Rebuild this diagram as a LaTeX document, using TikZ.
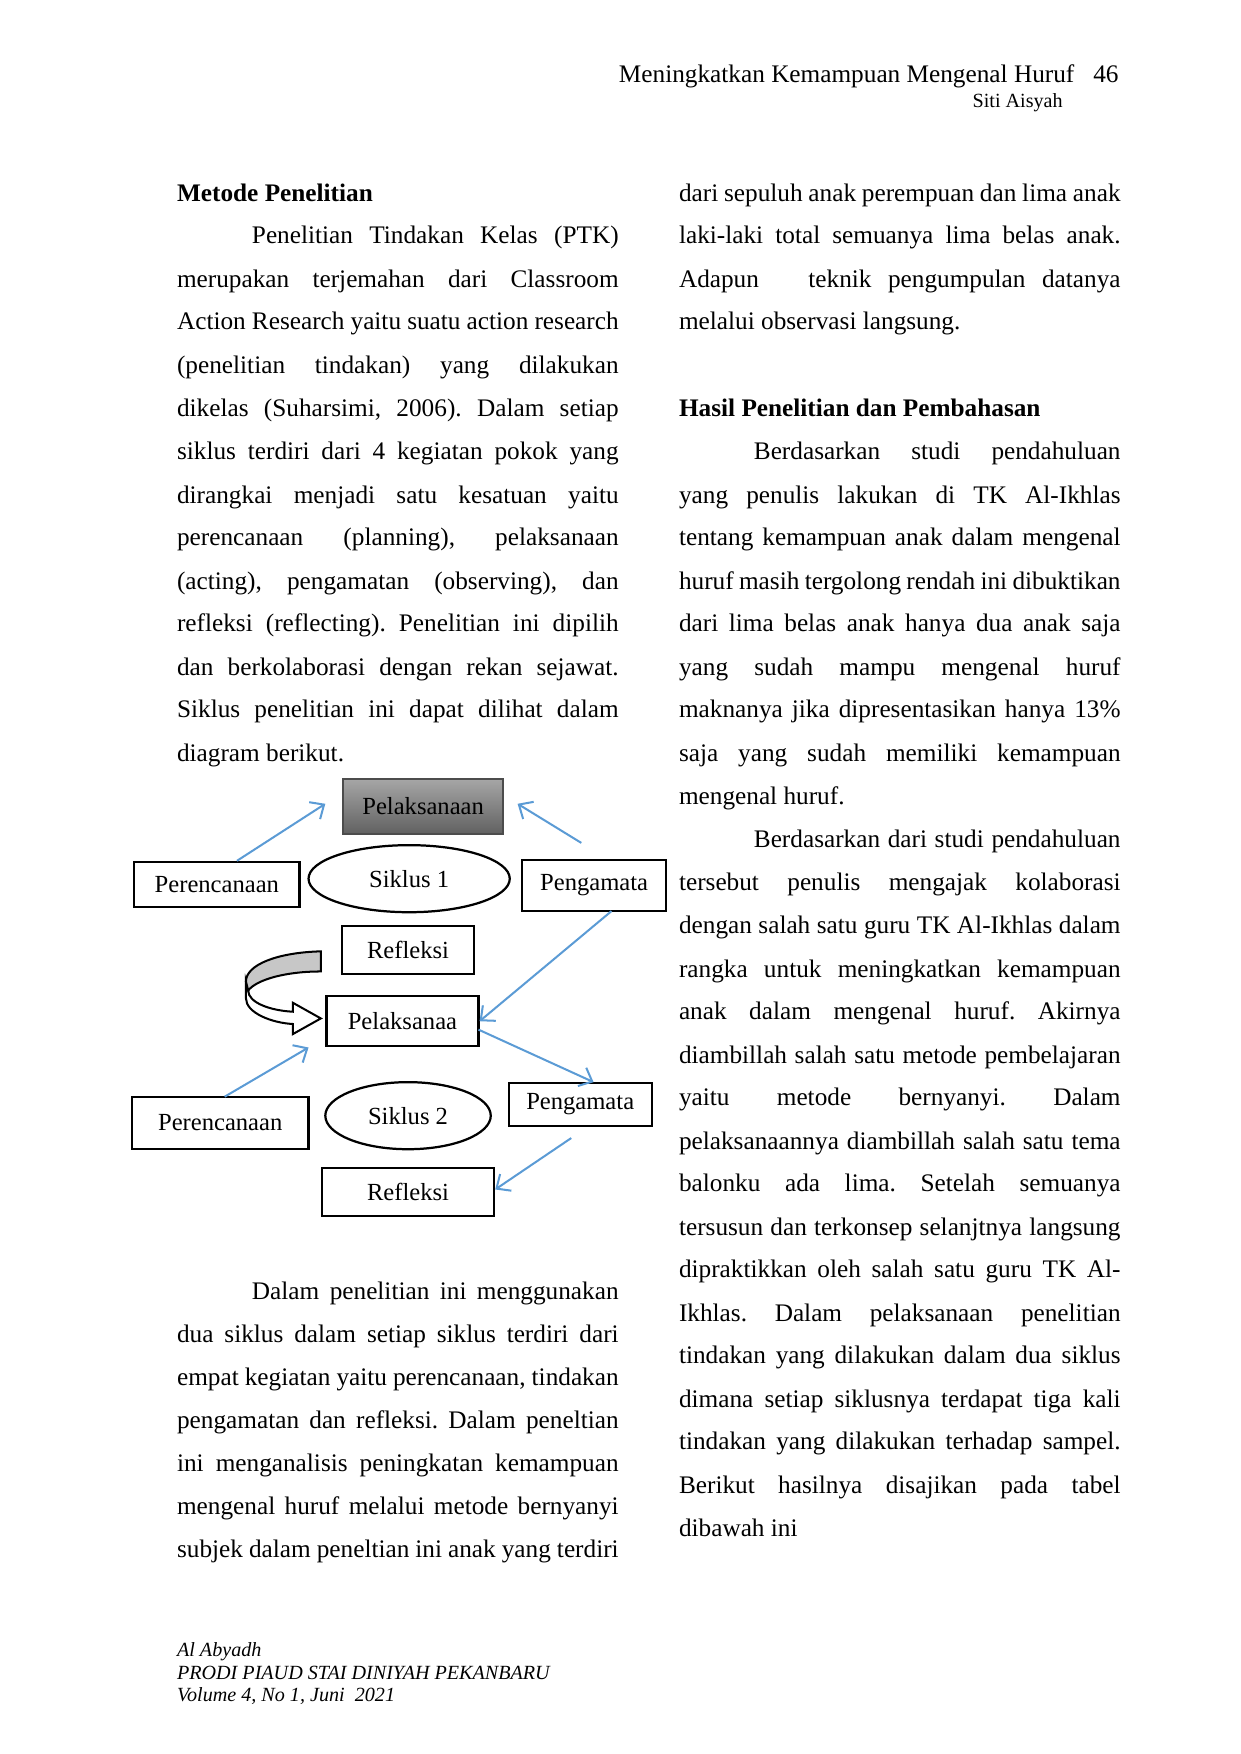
\documentclass[tikz,border=0pt]{standalone}
\usepackage{fontspec}
\setmainfont{Liberation Serif}
\usetikzlibrary{shapes.geometric,arrows.meta}
\frenchspacing
\begin{document}
\begin{tikzpicture}[x=0.5pt,y=-0.5pt,
  box/.style={draw,line width=1pt,inner sep=0pt,font=\fontsize{11pt}{13pt}\selectfont},
  ell/.style={draw,ellipse,line width=1pt,inner sep=0pt,font=\fontsize{11pt}{13pt}\selectfont},
  arr/.style={draw={rgb,255:red,91;green,155;blue,213},line width=0.9pt,-{Straight Barb[length=5pt,width=9pt]}},
  tl/.style={anchor=base west,inner sep=0pt,font=\fontsize{11.3pt}{13pt}\selectfont}]
\useasboundingbox (0,0) rectangle (1110,1569);
\newcommand\JL[2]{\node[tl] at (#1+8) {\makebox[197.5pt][s]{#2}};}
\newcommand\IL[2]{\node[tl] at (#1+8) {\hspace*{33.5pt}\makebox[164pt][s]{#2}};}
\newcommand\LL[2]{\node[tl] at (#1+8) {#2};}
% header
\node[anchor=base east,inner sep=0pt,font=\fontsize{11.3pt}{13pt}\selectfont] (hd) at (1001,74) {Meningkatkan Kemampuan Mengenal Huruf\hspace{8.5pt}46};
\node[anchor=base east,inner sep=0pt,font=\fontsize{9pt}{11pt}\selectfont] (au) at (951,96) {Siti Aisyah};
% footer
\node[anchor=base west,inner sep=0pt,font=\fontsize{9pt}{10pt}\selectfont\itshape] (ft) at (158,1482) {Al Abyadh};
\node[anchor=base west,inner sep=0pt,font=\fontsize{9pt}{10pt}\selectfont\itshape] (ft2) at (158,1502) {PRODI PIAUD STAI DINIYAH PEKANBARU};
\node[anchor=base west,inner sep=0pt,font=\fontsize{9pt}{10pt}\selectfont\itshape] (ft3) at (158,1522) {Volume 4, No 1, Juni\ \ 2021};
% left column
\LL{158,172}{\textbf{Metode Penelitian}}
\IL{158,210}{Penelitian Tindakan Kelas (PTK)}
\JL{158,249}{merupakan terjemahan dari Classroom}
\JL{158,287}{Action Research yaitu suatu action research}
\JL{158,326}{(penelitian tindakan) yang dilakukan}
\JL{158,365}{dikelas (Suharsimi, 2006). Dalam setiap}
\JL{158,403}{siklus terdiri dari 4 kegiatan pokok yang}
\JL{158,442}{dirangkai menjadi satu kesatuan yaitu}
\JL{158,480}{perencanaan (planning), pelaksanaan}
\JL{158,519}{(acting), pengamatan (observing), dan}
\JL{158,557}{refleksi (reflecting). Penelitian ini dipilih}
\JL{158,596}{dan berkolaborasi dengan rekan sejawat.}
\JL{158,634}{Siklus penelitian ini dapat dilihat dalam}
\LL{158,673}{diagram berikut.}
\IL{158,1154}{Dalam penelitian ini menggunakan}
\JL{158,1193}{dua siklus dalam setiap siklus terdiri dari}
\JL{158,1231}{empat kegiatan yaitu perencanaan, tindakan}
\JL{158,1270}{pengamatan dan refleksi. Dalam peneltian}
\JL{158,1308}{ini menganalisis peningkatan kemampuan}
\JL{158,1347}{mengenal huruf melalui metode bernyanyi}
\JL{158,1385}{subjek dalam peneltian ini anak yang terdiri}
% right column
\JL{607,172}{dari sepuluh anak perempuan dan lima anak}
\JL{607,210}{laki-laki total semuanya lima belas anak.}
\JL{607,249}{Adapun\ \ \ teknik pengumpulan datanya}
\LL{607,287}{melalui observasi langsung.}
\LL{607,365}{\textbf{Hasil Penelitian dan Pembahasan}}
\IL{607,403}{Berdasarkan studi pendahuluan}
\JL{607,442}{yang penulis lakukan di TK Al-Ikhlas}
\JL{607,480}{tentang kemampuan anak dalam mengenal}
\JL{607,519}{huruf masih tergolong rendah ini dibuktikan}
\JL{607,557}{dari lima belas anak hanya dua anak saja}
\JL{607,596}{yang sudah mampu mengenal huruf}
\JL{607,634}{maknanya jika dipresentasikan hanya 13\%}
\JL{607,673}{saja yang sudah memiliki kemampuan}
\LL{607,712}{mengenal huruf.}
\IL{607,750}{Berdasarkan dari studi pendahuluan}
\JL{607,789}{tersebut penulis mengajak kolaborasi}
\JL{607,827}{dengan salah satu guru TK Al-Ikhlas dalam}
\JL{607,866}{rangka untuk meningkatkan kemampuan}
\JL{607,904}{anak dalam mengenal huruf. Akirnya}
\JL{607,943}{diambillah salah satu metode pembelajaran}
\JL{607,981}{yaitu metode bernyanyi. Dalam}
\JL{607,1020}{pelaksanaannya diambillah salah satu tema}
\JL{607,1058}{balonku ada lima. Setelah semuanya}
\JL{607,1097}{tersusun dan terkonsep selanjtnya langsung}
\JL{607,1135}{dipraktikkan oleh salah satu guru TK Al-}
\JL{607,1174}{Ikhlas. Dalam pelaksanaan penelitian}
\JL{607,1212}{tindakan yang dilakukan dalam dua siklus}
\JL{607,1251}{dimana setiap siklusnya terdapat tiga kali}
\JL{607,1289}{tindakan yang dilakukan terhadap sampel.}
\JL{607,1328}{Berikut hasilnya disajikan pada tabel}
\LL{607,1366}{dibawah ini}
% diagram
\node[box,draw=black!70,top color=black!35,bottom color=black!62,minimum width=71.5pt,minimum height=24.5pt] (p1) at (378.5,721.5) {Pelaksanaan};
\node[box,minimum width=74pt,minimum height=20pt] (r1) at (194,791) {Perencanaan};
\node[ell,minimum width=90pt,minimum height=30pt] (s1) at (366,786) {Siklus 1};
\node[box,minimum width=64.5pt,minimum height=23pt] (g1) at (531.5,792) {Pengamata};
\node[box,minimum width=59pt,minimum height=21.5pt] (f1) at (365,849.5) {Refleksi};
\node[box,minimum width=68pt,minimum height=22.5pt] (p2) at (360,913.5) {Pelaksanaa};
\node[box,minimum width=79pt,minimum height=23.5pt] (r2) at (197,1004.5) {Perencanaan};
\node[ell,minimum width=74pt,minimum height=30pt] (s2) at (365,998) {Siklus 2};
\node[box,minimum width=64pt,minimum height=19pt] (g2) at (519,988) {Pengamata};
\node[box,minimum width=77pt,minimum height=21.5pt] (f2) at (365,1066.5) {Refleksi};
\coordinate (a1) at (291,719);
\coordinate (a2s) at (520,754);
\coordinate (a2) at (463,719);
\coordinate (a3s) at (547,815);
\coordinate (a4s) at (428,921);
\coordinate (a4) at (531,968);
\coordinate (a5s) at (201,981);
\coordinate (a5) at (276,937);
\coordinate (a6s) at (511,1018);
\coordinate (a6) at (443,1064);
\draw[arr] (r1.north) ++(18,0) -- (a1);
\draw[arr] (a2s) -- (a2);
\draw[arr] (a3s) -- (p2.east);
\draw[arr] (a4s) -- (a4);
\draw[arr] (a5s) -- (a5);
\draw[arr] (a6s) -- (a6);
% curved arrow
\draw[line width=0.9pt,fill=white] (220,878) -- (220,893) .. controls (220,906) and (243,915) .. (262,916) -- (262,925) -- (287,911) -- (262,897) -- (262,905) .. controls (242,904) and (222,897) .. (222,886) -- cycle;
\draw[line width=0.9pt,fill=black!22] (287,851) .. controls (248,852) and (220,863) .. (220,878) -- (222,886) .. controls (230,876) and (256,869) .. (287,869) -- cycle;
\end{tikzpicture}
\end{document}
